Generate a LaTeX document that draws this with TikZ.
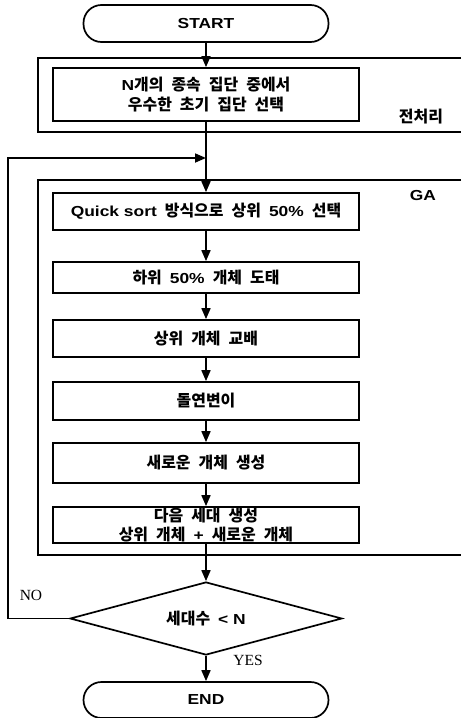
\documentclass[tikz,border=0pt]{standalone}
\usepackage{fontspec}
\setmainfont{Liberation Sans}[FakeStretch=1.2]
\newfontfamily\kr{Noto Sans CJK KR}[Scale=1.1, WordSpace=2.2]
\newfontfamily\tms{Liberation Serif}
\usetikzlibrary{shapes.geometric,arrows.meta}
\newcommand\kt[1]{{\kr #1}}
\begin{document}
\begin{tikzpicture}[x=1pt,y=-1pt,
  line width=1.7pt,
  every node/.style={font=\fontsize{14.5}{19.5}\selectfont\bfseries},
  proc/.style={draw, minimum width=306pt, inner sep=0pt, align=center},
  term/.style={draw, rounded corners=18pt, minimum width=245pt, minimum height=37pt, inner sep=0pt},
  decision/.style={draw, diamond, shape aspect=3.7, minimum width=272pt, minimum height=73pt, inner sep=0pt},
  arr/.style={-{Triangle[width=9pt,length=11pt]}},
  frame/.style={line width=1.4pt},
  lbl/.style={font=\fontsize{15.5}{18}\selectfont\tms}
]
\useasboundingbox (0,0) rectangle (461,718);
% frames
\draw[frame] (461,58) -- (38,58) -- (38,132) -- (461,132);
\draw[frame] (461,180) -- (38,180) -- (38,555) -- (461,555);
% nodes
\node[term] (start) at (206,23.5) {START};
\node[proc, minimum height=53pt] (b0) at (206,94.5) {N\kt{개의 종속 집단 중에서}\\\kt{우수한 초기 집단 선택}};
\node (pre) at (421,117) {\kt{전처리}};
\node (ga) at (423,196) {GA};
\node[proc, minimum height=37pt] (b1) at (206,211.5) {Quick sort\kt{ 방식으로 상위 }50\%\kt{ 선택}};
\node[proc, minimum height=31pt] (b2) at (206,277.5) {\kt{하위 }50\%\kt{ 개체 도태}};
\node[proc, minimum height=37pt] (b3) at (206,338.5) {\kt{상위 개체 교배}};
\node[proc, minimum height=38pt] (b4) at (206,401) {\kt{돌연변이}};
\node[proc, minimum height=40pt] (b5) at (206,463) {\kt{새로운 개체 생성}};
\node[proc, minimum height=36pt] (b6) at (206,525) {\kt{다음 세대 생성}\\\kt{상위 개체 }+\kt{ 새로운 개체}};
\node[decision] (dec) at (206,618.5) {\kt{세대수 }< N};
\node[term, minimum height=36pt] (end) at (206,700) {END};
\node[lbl] (no) at (31,595) {NO};
\node[lbl] (yes) at (248,660) {YES};
% connectors
\coordinate (join) at (206,158);
\coordinate (lcorner) at (8,158);
\draw[arr] (start) -- (b0);
\draw[arr] (b0) -- (b1);
\draw[arr] (b1) -- (b2);
\draw[arr] (b2) -- (b3);
\draw[arr] (b3) -- (b4);
\draw[arr] (b4) -- (b5);
\draw[arr] (b5) -- (b6);
\draw[arr] (b6) -- (dec);
\draw[arr] (dec) -- (end);
\draw[arr] (dec.west) -| (lcorner) -- (join);
\end{tikzpicture}
\end{document}
